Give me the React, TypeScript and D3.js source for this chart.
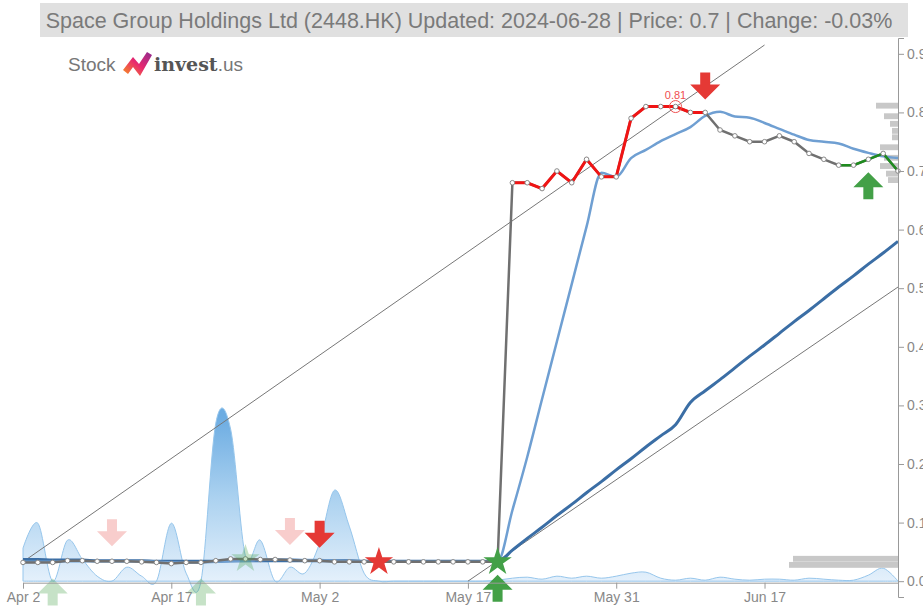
import React, { useEffect, useRef } from 'react';
import * as d3 from 'd3';

// trading-day index ticks
const tickIndexes = [0, 10, 20, 30, 40, 50];
const tickLabels = ['Apr 2', 'Apr 17', 'May 2', 'May 17', 'May 31', 'Jun 17'];
const priceTicks = [0, 0.1, 0.2, 0.3, 0.4, 0.5, 0.6, 0.7, 0.8, 0.9];

// closing prices, Apr 2 .. Jun 28 (60 trading days)
const prices = [
  0.032, 0.032, 0.032, 0.035, 0.035, 0.034, 0.034, 0.034, 0.033, 0.032,
  0.030, 0.032, 0.032, 0.035, 0.038, 0.038, 0.037, 0.037, 0.036, 0.035,
  0.035, 0.033, 0.033, 0.033, 0.033, 0.033, 0.033, 0.033, 0.033, 0.033,
  0.033, 0.033, 0.033, 0.68, 0.68, 0.67, 0.70, 0.68, 0.72, 0.69,
  0.69, 0.79, 0.81, 0.81, 0.81, 0.80, 0.80, 0.77, 0.76, 0.75,
  0.75, 0.76, 0.75, 0.73, 0.72, 0.71, 0.71, 0.72, 0.73, 0.70,
];

const maShort = [
  0.033, 0.033, 0.033, 0.034, 0.034, 0.034, 0.034, 0.034, 0.034, 0.033,
  0.032, 0.032, 0.032, 0.033, 0.034, 0.035, 0.036, 0.037, 0.037, 0.036,
  0.036, 0.035, 0.034, 0.034, 0.033, 0.033, 0.033, 0.033, 0.033, 0.033,
  0.033, 0.033, 0.033, 0.121, 0.212, 0.311, 0.409, 0.507, 0.605, 0.697,
  0.690, 0.722, 0.736, 0.751, 0.763, 0.775, 0.794, 0.801, 0.793, 0.791,
  0.782, 0.772, 0.762, 0.753, 0.750, 0.747, 0.738, 0.731, 0.725, 0.722,
];

const maLong = [
  0.037, 0.037, 0.036, 0.036, 0.036, 0.035, 0.035, 0.035, 0.035, 0.034,
  0.034, 0.034, 0.034, 0.034, 0.035, 0.035, 0.035, 0.035, 0.035, 0.035,
  0.035, 0.035, 0.035, 0.034, 0.034, 0.034, 0.034, 0.034, 0.034, 0.034,
  0.034, 0.034, 0.033, 0.053, 0.073, 0.092, 0.112, 0.131, 0.151, 0.170,
  0.190, 0.209, 0.229, 0.248, 0.267, 0.305, 0.325, 0.344, 0.364, 0.384,
  0.403, 0.423, 0.443, 0.462, 0.482, 0.502, 0.521, 0.541, 0.560, 0.580,
];

const volumes = [
  33, 58, 0, 41, 22, 5, 0, 14, 5, 0,
  58, 8, 0, 158, 152, 25, 41, 0, 14, 8,
  38, 91, 55, 8, 0, 0, 0, 0, 0, 0,
  0, 0, 1, 3, 4, 2, 5, 3, 5, 3,
  5, 8, 9, 3, 1, 3, 1, 4, 2, 1,
  2, 2, 1, 3, 2, 1, 1, 6, 13, 0,
];

// volume by price
const vbpLevels = [0.0273, 0.0377, 0.684, 0.695, 0.708, 0.722, 0.740, 0.757, 0.768, 0.780, 0.793, 0.811];
const vbpVolumes = [109, 105, 10, 12, 18, 14, 18, 6, 6, 8, 14, 22];

// trend channel [index, price]
const upperTrend = [[0, 0.033], [50, 0.915]];
const lowerTrend = [[30, 0.0], [59, 0.502]];

const redSegment = [33, 46];
const greenSegment = [55, 59];

const sellArrows = [20, 46];
const sellArrowsFaded = [6, 18];
const buyArrows = [32, 57];
const buyArrowsFaded = [2, 12];
const sellStars = [24];
const buyStars = [32];
const buyStarsFaded = [15];
const peakIndex = 44;
const peakLabel = '0.81';

const title = 'Space Group Holdings Ltd (2448.HK) Updated: 2024-06-28 | Price: 0.7 | Change: -0.03%';

const RED = '#e53935';
const GREEN = '#43a047';
const FONT = '"Liberation Sans", Arial, sans-serif';

function App() {
  const svgRef = useRef(null);

  useEffect(() => {
    const svg = d3.select(svgRef.current);
    svg.selectAll('*').remove();

    const x = d3.scaleLinear().domain([0, 59]).range([23, 898]);
    const y = d3.scaleLinear().domain([-0.027, 0.927]).range([597, 38]);
    const yVol = d3.scaleLinear().domain([0, 175]).range([y(0), y(0) - 175]);
    const wVbp = d3.scaleLinear().domain([0, 110]).range([0, 110]);

    const defs = svg.append('defs');
    const vg = defs.append('linearGradient').attr('id', 'volGrad')
      .attr('gradientUnits', 'userSpaceOnUse')
      .attr('x1', 0).attr('x2', 0).attr('y1', yVol(165)).attr('y2', yVol(0));
    vg.append('stop').attr('offset', 0).attr('stop-color', 'rgb(108,172,226)');
    vg.append('stop').attr('offset', 0.5).attr('stop-color', 'rgb(172,210,240)');
    vg.append('stop').attr('offset', 1).attr('stop-color', 'rgb(228,240,251)');
    const lg = defs.append('linearGradient').attr('id', 'logoGrad')
      .attr('x1', 0).attr('x2', 1).attr('y1', 1).attr('y2', 0);
    lg.append('stop').attr('offset', 0).attr('stop-color', '#f7941d');
    lg.append('stop').attr('offset', 0.5).attr('stop-color', '#e8286f');
    lg.append('stop').attr('offset', 1).attr('stop-color', '#8e2c90');

    // title band
    svg.append('rect').attr('x', 40).attr('y', 3).attr('width', 868).attr('height', 34).attr('fill', '#e0e0e0');
    svg.append('text').attr('x', 469).attr('y', 28).attr('text-anchor', 'middle')
      .attr('font-family', FONT).attr('font-size', 21.5).attr('fill', '#7a7a7a')
      .text(title);

    // logo
    const logo = svg.append('g').attr('font-family', FONT);
    logo.append('text').attr('x', 68).attr('y', 71).attr('font-size', 19).attr('fill', '#777').text('Stock');
    logo.append('path')
      .attr('d', 'M123,70 L133,57 L139,64 L147,52 L152,55 L140,76 L133,67 L128,74 Z')
      .attr('fill', 'url(#logoGrad)');
    const brand = logo.append('text').attr('x', 154).attr('y', 71);
    brand.append('tspan').attr('font-size', 19).attr('font-weight', 'bold')
      .attr('font-family', '"DejaVu Serif", serif').attr('fill', '#555').text('invest');
    brand.append('tspan').attr('font-size', 19).attr('fill', '#777').text('.us');

    // volume area
    const area = d3.area()
      .x((d, i) => x(i))
      .y0(yVol(0))
      .y1(d => yVol(d))
      .curve(d3.curveCardinal);
    svg.append('path').datum(volumes).attr('d', area)
      .attr('fill', 'url(#volGrad)').attr('stroke', 'rgb(150,198,236)').attr('stroke-width', 1);

    // volume by price bars
    svg.append('g').selectAll('rect').data(vbpLevels).enter().append('rect')
      .attr('x', (d, i) => 898 - wVbp(vbpVolumes[i]))
      .attr('y', d => y(d + 0.0055))
      .attr('width', (d, i) => wVbp(vbpVolumes[i]))
      .attr('height', d => y(d - 0.0055) - y(d + 0.0055) - 0.6)
      .attr('fill', '#c8c8c8');

    // trend channel
    const tline = d3.line().x(d => x(d[0])).y(d => y(d[1]));
    [upperTrend, lowerTrend].forEach(t => {
      svg.append('path').datum(t).attr('d', tline)
        .attr('fill', 'none').attr('stroke', '#777').attr('stroke-width', 1);
    });

    // moving averages
    const maLine = d3.line().x((d, i) => x(i)).y(d => y(d)).curve(d3.curveMonotoneX);
    svg.append('path').datum(maLong).attr('d', maLine)
      .attr('fill', 'none').attr('stroke', '#3b6ea5').attr('stroke-width', 3);
    svg.append('path').datum(maShort).attr('d', maLine)
      .attr('fill', 'none').attr('stroke', '#6f9fd2').attr('stroke-width', 2.5);

    // price line
    const pts = prices.map((p, i) => [i, p]);
    const pline = d3.line().x(d => x(d[0])).y(d => y(d[1]));
    svg.append('path').datum(pts).attr('d', pline)
      .attr('fill', 'none').attr('stroke', '#707070').attr('stroke-width', 2.5);
    svg.append('path').datum(pts.slice(redSegment[0], redSegment[1] + 1)).attr('d', pline)
      .attr('fill', 'none').attr('stroke', '#f01414').attr('stroke-width', 3);
    svg.append('path').datum(pts.slice(greenSegment[0], greenSegment[1] + 1)).attr('d', pline)
      .attr('fill', 'none').attr('stroke', '#1e8c1e').attr('stroke-width', 2.5);
    svg.append('g').selectAll('circle').data(pts).enter().append('circle')
      .attr('cx', d => x(d[0])).attr('cy', d => y(d[1])).attr('r', 2.3)
      .attr('fill', '#fff').attr('stroke', '#888').attr('stroke-width', 1);

    // peak marker
    svg.append('circle').attr('cx', x(peakIndex)).attr('cy', y(prices[peakIndex])).attr('r', 6)
      .attr('fill', 'none').attr('stroke', '#f05050').attr('stroke-width', 1);
    svg.append('text').attr('x', x(peakIndex)).attr('y', y(prices[peakIndex]) - 8)
      .attr('text-anchor', 'middle').attr('font-family', FONT).attr('font-size', 11)
      .attr('fill', '#f05050').text(peakLabel);

    // signal markers
    const downArrow = (cx, tip) =>
      `M${cx - 5},${tip - 27}L${cx + 5},${tip - 27}L${cx + 5},${tip - 15}L${cx + 15},${tip - 15}` +
      `L${cx},${tip}L${cx - 15},${tip - 15}L${cx - 5},${tip - 15}Z`;
    const upArrow = (cx, tip) =>
      `M${cx - 5},${tip + 27}L${cx + 5},${tip + 27}L${cx + 5},${tip + 15}L${cx + 15},${tip + 15}` +
      `L${cx},${tip}L${cx - 15},${tip + 15}L${cx - 5},${tip + 15}Z`;
    const star = d3.symbol().type(d3.symbolStar).size(250);

    const marks = svg.append('g');
    sellArrowsFaded.forEach(i => marks.append('path').attr('d', downArrow(x(i), y(prices[i]) - 15))
      .attr('fill', RED).attr('opacity', 0.25));
    buyArrowsFaded.forEach(i => marks.append('path').attr('d', upArrow(x(i), y(prices[i]) + 16))
      .attr('fill', GREEN).attr('opacity', 0.3));
    buyStarsFaded.forEach(i => marks.append('path').attr('d', star)
      .attr('transform', `translate(${x(i)},${y(prices[i])})`).attr('fill', GREEN).attr('opacity', 0.3));
    sellArrows.forEach(i => marks.append('path').attr('d', downArrow(x(i), y(prices[i]) - 13))
      .attr('fill', RED));
    buyArrows.forEach(i => marks.append('path').attr('d', upArrow(x(i), y(prices[i]) + 13))
      .attr('fill', GREEN));
    sellStars.forEach(i => marks.append('path').attr('d', star)
      .attr('transform', `translate(${x(i)},${y(prices[i])})`).attr('fill', RED));
    buyStars.forEach(i => marks.append('path').attr('d', star)
      .attr('transform', `translate(${x(i)},${y(prices[i])})`).attr('fill', GREEN));

    // axes
    const xAxis = svg.append('g').attr('transform', `translate(0,${y(0) + 1.5})`)
      .call(d3.axisBottom(x).tickValues(tickIndexes).tickFormat((d, i) => tickLabels[i]).tickSizeOuter(0));
    const yAxis = svg.append('g').attr('transform', 'translate(898,0)')
      .call(d3.axisRight(y).tickValues(priceTicks).tickFormat(d3.format('.1f')));
    [xAxis, yAxis].forEach(a => {
      a.selectAll('path').attr('stroke', '#999');
      a.selectAll('line').attr('stroke', '#999');
      a.selectAll('text').attr('fill', '#888').attr('font-size', 14).attr('font-family', FONT);
    });
  }, []);

  return (
    <svg ref={svgRef} width={923} height={608}
      style={{ position: 'absolute', left: 0, top: 0, background: '#fff' }} />
  );
}

export default App;
